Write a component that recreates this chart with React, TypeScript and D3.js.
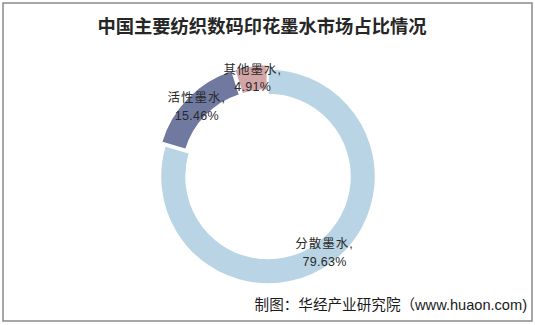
import React from "react";
import * as d3 from "d3";

const categories = ["分散墨水", "活性墨水", "其他墨水"];
const values = [79.63, 15.46, 4.91];
const valueLabels = ["79.63%", "15.46%", "4.91%"];
const colors = ["#B8D4E5", "#707AA1", "#D4A5A7"];
const explode = [0, 5, 4.5];

const W = 535;
const H = 325;
const cx = 268;
const cy = 176.5;
const outerR = 107.5;
const innerR = 82;

export default function App() {
  const pie = d3
    .pie<number>()
    .sort(null)
    .startAngle(0)
    .endAngle(2 * Math.PI)
    .value((d) => d);
  const arcs = pie(values);
  const arc = d3
    .arc<d3.PieArcDatum<number>>()
    .innerRadius(innerR)
    .outerRadius(outerR);
  const labelR = (innerR + outerR) / 2;

  return (
    <svg
      width={W}
      height={H}
      style={{ position: "absolute", left: 0, top: 0, background: "#fff" }}
    >
      <rect x={0} y={0} width={W} height={H} fill="#fff" />
      <rect
        x={3}
        y={3}
        width={529}
        height={318}
        fill="none"
        stroke="#8a8a8a"
        strokeWidth={1.5}
      />
      <text
        x={262}
        y={25}
        textAnchor="middle"
        dominantBaseline="central"
        fontFamily="'Noto Sans CJK SC', sans-serif"
        fontWeight="bold"
        fontSize={18.3}
        fill="#262626"
      >
        中国主要纺织数码印花墨水市场占比情况
      </text>
      <g transform={`translate(${cx},${cy})`}>
        {arcs.map((a, i) => {
          const mid = (a.startAngle + a.endAngle) / 2;
          const ox = Math.sin(mid) * explode[i];
          const oy = -Math.cos(mid) * explode[i];
          return (
            <path
              key={i}
              d={arc(a) || ""}
              transform={`translate(${ox},${oy})`}
              fill={colors[i]}
              stroke="#fff"
              strokeWidth={1.5}
            />
          );
        })}
        {arcs.map((a, i) => {
          const mid = (a.startAngle + a.endAngle) / 2;
          const r = labelR + explode[i];
          const x = Math.sin(mid) * r;
          const y = -Math.cos(mid) * r;
          return (
            <g
              key={"l" + i}
              fontFamily="'Liberation Sans', Arial, 'Noto Sans CJK SC', sans-serif"
              fontSize={12.5}
              fill="#2a2a2a"
              textAnchor="middle"
            >
              <text x={x} y={y - 8.5} dominantBaseline="central" letterSpacing={1}>
                {categories[i] + ","}
              </text>
              <text x={x} y={y + 9} dominantBaseline="central" letterSpacing={0.3}>
                {valueLabels[i]}
              </text>
            </g>
          );
        })}
      </g>
      <text
        x={527}
        y={305}
        textAnchor="end"
        dominantBaseline="central"
        fontFamily="'Liberation Sans', Arial, 'Noto Sans CJK SC', sans-serif"
        fontSize={14.6}
        fill="#1a1a1a"
      >
        制图：华经产业研究院（www.huaon.com)
      </text>
    </svg>
  );
}
